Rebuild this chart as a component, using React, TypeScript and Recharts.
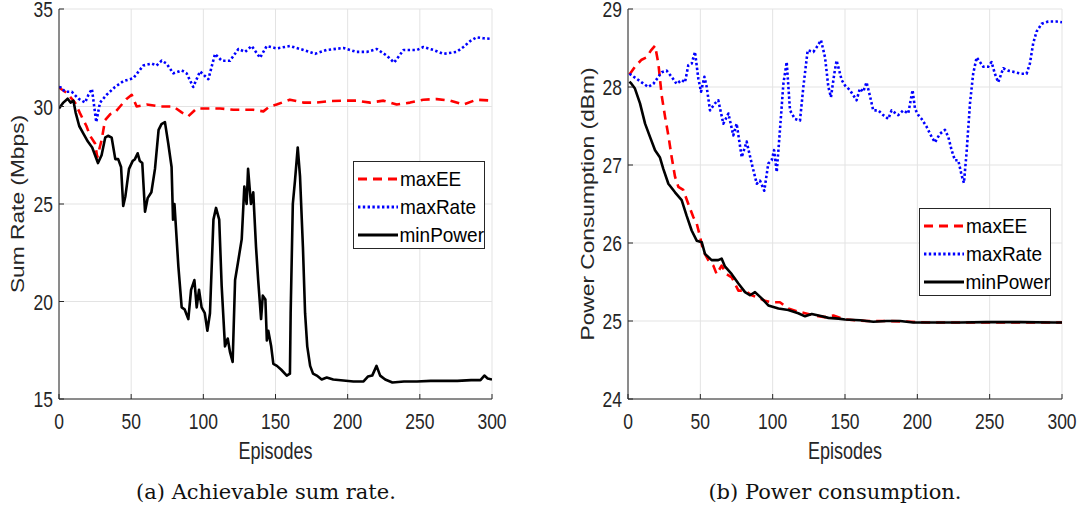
import React from 'react';
import { LineChart, Line, XAxis, YAxis, CartesianGrid, Legend } from 'recharts';

// ---------- axes ----------
const episodeTicks = [0, 50, 100, 150, 200, 250, 300];
const rateTicks = [15, 20, 25, 30, 35];
const powerTicks = [24, 25, 26, 27, 28, 29];
const seriesNames = ['maxEE', 'maxRate', 'minPower'];

// ---------- (a) achievable sum rate (Mbps) ----------
const rateMaxEEEp = [0, 1.4, 5.3, 11.1, 14.5, 19, 21.5, 25, 26.5, 29.6, 31.9, 35.4, 38.8, 42.3, 47, 50.4, 53.8, 60.8, 70, 79.2, 85, 89.6, 95.4, 102, 111.6, 120.8, 134.6, 141.6, 146, 150.8, 160, 169.3, 178.6, 187.8, 197, 206, 215.6, 224.8, 234, 243.2, 252.4, 261.7, 271, 280, 289.4, 300];
const rateMaxEEVal = [31.0, 30.9, 30.7, 30.2, 29.66, 29.0, 28.5, 28.1, 27.4, 28.3, 29.3, 29.6, 29.7, 30.0, 30.4, 30.6, 30.0, 30.1, 30.0, 30.0, 29.7, 29.5, 29.9, 29.9, 29.9, 29.83, 29.83, 29.75, 30.0, 30.1, 30.35, 30.2, 30.2, 30.28, 30.3, 30.3, 30.2, 30.3, 30.1, 30.2, 30.35, 30.38, 30.3, 30.1, 30.35, 30.3];

const rateMaxRateEp = [0, 1.4, 4.2, 8.8, 13.5, 18.1, 20.4, 22.8, 25.8, 28.4, 33, 38.8, 44.6, 51.5, 58.4, 64.2, 67.6, 71.1, 74.5, 79.2, 85, 88.4, 93, 97.7, 103.5, 108.1, 112.7, 118.5, 124.3, 128.9, 133.5, 139.3, 143.9, 150.8, 160, 169.3, 177.4, 185.5, 197, 206, 213.3, 220.2, 227.2, 232.2, 238.7, 248, 252.4, 259.4, 266.3, 275.5, 280.2, 284.8, 289.4, 294, 300];
const rateMaxRateVal = [31.0, 30.97, 30.76, 30.76, 30.4, 30.2, 30.6, 30.9, 29.2, 30.2, 30.6, 31.0, 31.3, 31.45, 32.1, 32.2, 32.1, 32.35, 32.2, 31.7, 31.85, 31.7, 31.0, 31.8, 31.4, 32.7, 32.35, 32.35, 32.95, 32.8, 33.1, 32.5, 33.1, 32.98, 33.1, 32.9, 32.7, 32.9, 33.0, 32.8, 32.8, 32.95, 32.6, 32.25, 32.9, 32.9, 33.05, 32.9, 32.7, 32.8, 33.05, 33.35, 33.55, 33.5, 33.47];

const rateMinPowerEp = [0, 1, 3, 6, 8, 10, 11.5, 14, 17, 20, 23, 25, 27, 29.5, 32, 34, 36.5, 39, 41, 43, 44.5, 46, 48.5, 51, 52.6, 54.5, 56, 57.7, 59.6, 61.4, 64, 66.5, 69, 71, 73.4, 75.7, 78, 79, 80, 82.7, 85, 87, 89.6, 91.5, 93.8, 95.4, 97, 98.8, 101, 102.8, 104.6, 107, 108.8, 111, 112.7, 115, 116.9, 118.5, 120.3, 122, 124, 126.6, 128.4, 130, 131, 133, 134.6, 135.2, 136.5, 138, 140, 141.2, 143, 144, 145, 147, 148.5, 151, 154, 157.8, 160, 160.5, 162, 163.5, 165.4, 167, 169, 170.5, 172, 174, 176, 178.6, 182, 185.5, 190, 197, 204, 211, 214, 217, 220, 222.5, 226, 231, 239, 248, 257.5, 266.8, 276, 285.5, 292, 294.7, 297, 300];
const rateMinPowerVal = [29.9, 30.0, 30.2, 30.4, 30.2, 30.3, 29.7, 29.0, 28.6, 28.2, 27.9, 27.5, 27.1, 27.5, 28.4, 28.5, 28.4, 27.3, 27.3, 26.9, 24.9, 25.4, 26.8, 27.2, 27.3, 27.6, 27.2, 27.1, 24.6, 25.3, 25.6, 26.8, 28.8, 29.1, 29.2, 28.1, 26.9, 24.2, 25.0, 21.8, 19.7, 19.6, 19.1, 20.6, 21.1, 19.7, 20.6, 19.7, 19.4, 18.5, 19.4, 24.2, 24.8, 24.2, 20.8, 17.7, 18.1, 17.4, 16.9, 21.1, 22.0, 23.2, 25.9, 25.0, 26.8, 25.0, 25.6, 24.7, 22.8, 21.1, 19.1, 20.3, 20.1, 18.0, 18.5, 17.7, 16.8, 16.7, 16.5, 16.2, 16.3, 19.4, 25.0, 26.2, 27.9, 26.4, 22.8, 19.4, 17.7, 16.7, 16.3, 16.2, 16.0, 16.1, 16.0, 15.95, 15.9, 15.9, 16.15, 16.2, 16.7, 16.2, 16.0, 15.85, 15.9, 15.9, 15.93, 15.93, 15.93, 15.97, 15.97, 16.2, 16.05, 16.0];

// ---------- (b) power consumption (dBm) ----------
const powMaxEEEp = [1, 4.8, 9.4, 12.9, 15.9, 18.7, 21, 23.3, 25.6, 27.9, 30.2, 32.5, 34.8, 38.2, 41.7, 45.2, 47.5, 49.8, 52, 55.5, 59, 61.3, 64.7, 68.2, 71.7, 76.3, 80.9, 85.5, 90, 94.7, 99.3, 105, 110.8, 117.7, 122.4, 129.3, 136, 142, 150, 165, 180, 195, 210, 230, 250, 270, 290, 300];
const powMaxEEVal = [28.16, 28.26, 28.35, 28.38, 28.47, 28.53, 28.3, 27.89, 27.62, 27.38, 27.1, 26.85, 26.72, 26.68, 26.5, 26.33, 26.25, 26.08, 25.9, 25.78, 25.71, 25.6, 25.71, 25.6, 25.56, 25.39, 25.39, 25.33, 25.3, 25.26, 25.24, 25.24, 25.16, 25.12, 25.1, 25.07, 25.05, 25.07, 25.02, 25.0, 25.0, 24.99, 24.98, 24.98, 24.98, 24.98, 24.98, 24.98];

const powMaxRateEp = [1, 4.8, 9.4, 14, 17.5, 21, 23.3, 26.7, 30.2, 33.6, 37.1, 39.4, 41.7, 44, 46.3, 48.6, 50.5, 52.8, 54.4, 56.7, 60.1, 62.4, 65.9, 69.4, 72.8, 75.1, 78.6, 82, 85.5, 89, 91.2, 94.2, 97, 99.3, 101, 102.8, 105, 107.4, 109.7, 112, 115.4, 118.9, 121.2, 124.2, 128.1, 130.4, 133.4, 136.2, 138.5, 140.3, 142.6, 144.2, 147.7, 150, 153.4, 158, 160.3, 162.6, 164.9, 167.2, 169.5, 173, 176.4, 179.9, 182.2, 186.8, 190.2, 193.7, 195.4, 196.7, 198.4, 200.7, 203, 206.4, 209.9, 212.2, 215.6, 219.1, 221.4, 223.7, 226, 228.3, 230.6, 232.2, 234, 236.4, 238.6, 241, 243.3, 245.6, 249, 251.3, 253.6, 255.9, 259.4, 262.8, 267.4, 272, 275.5, 277.8, 280.1, 282.4, 285.9, 290.5, 296.2, 300];
const powMaxRateVal = [28.17, 28.12, 28.06, 28.0, 28.04, 28.13, 28.19, 28.21, 28.13, 28.04, 28.09, 28.06, 28.28, 28.3, 28.45, 28.11, 27.94, 28.13, 28.0, 27.7, 27.79, 27.83, 27.53, 27.66, 27.38, 27.53, 27.1, 27.3, 27.02, 26.76, 26.8, 26.67, 27.02, 27.06, 27.19, 26.91, 27.44, 28.04, 28.32, 27.7, 27.59, 27.57, 28.0, 28.47, 28.45, 28.51, 28.6, 28.38, 28.0, 27.87, 28.17, 28.34, 28.09, 28.02, 27.96, 27.83, 27.98, 27.94, 28.06, 27.89, 27.7, 27.7, 27.64, 27.59, 27.7, 27.64, 27.7, 27.66, 27.83, 27.96, 27.72, 27.64, 27.59, 27.49, 27.36, 27.29, 27.4, 27.45, 27.36, 27.19, 27.06, 27.06, 26.87, 26.77, 27.15, 27.79, 28.17, 28.38, 28.32, 28.26, 28.26, 28.32, 28.17, 28.06, 28.24, 28.21, 28.19, 28.17, 28.17, 28.3, 28.56, 28.71, 28.81, 28.84, 28.84, 28.83];

const powMinPowerEp = [1, 2, 4.8, 8.3, 11.8, 15.2, 18.7, 22, 24.4, 27.9, 32.5, 37.1, 40.5, 44, 47.5, 51, 53.2, 57.8, 62.4, 64.7, 67, 71.7, 76.3, 80.9, 84.3, 87.8, 92.4, 97, 104, 110.8, 117.7, 122.4, 127, 134, 138.5, 145.4, 150, 160.4, 169.6, 178.8, 188, 197.2, 213.4, 229.5, 248, 271, 294, 300];
const powMinPowerVal = [28.07, 28.05, 27.98, 27.79, 27.53, 27.36, 27.19, 27.1, 26.95, 26.76, 26.65, 26.55, 26.35, 26.16, 26.03, 26.01, 25.86, 25.78, 25.78, 25.8, 25.7, 25.6, 25.48, 25.37, 25.33, 25.37, 25.29, 25.2, 25.16, 25.14, 25.1, 25.06, 25.09, 25.06, 25.04, 25.03, 25.02, 25.01, 24.99, 25.0, 25.0, 24.98, 24.98, 24.98, 24.985, 24.985, 24.98, 24.98];

const zip = (xs: number[], ys: number[]) => xs.map((x, i) => ({ ep: x, v: ys[i] }));

// ---------- styles ----------
const SANS = '"Liberation Sans", Arial, Helvetica, sans-serif';
const SERIF = '"DejaVu Serif", "Liberation Serif", serif';
const TXT = '#262626';
const AXIS = '#262626';
const GRID = '#e3e3e3';
const STYLES = [
  { color: '#ff0000', dash: '9 6', width: 2.6 },
  { color: '#0000ff', dash: '2.4 2.4', width: 2.6 },
  { color: '#000000', dash: undefined as string | undefined, width: 2.6 },
];

const XTick = (p: any) => (
  <text transform={`translate(${p.x},${p.y}) scale(1,1.3)`} textAnchor="middle" dy="0.71em"
    fontFamily={SANS} fontSize={17.5} fill={TXT}>{p.payload.value}</text>
);
const YTick = (p: any) => (
  <text transform={`translate(${p.x},${p.y}) scale(1,1.3)`} textAnchor="end" dy="0.355em"
    fontFamily={SANS} fontSize={17.5} fill={TXT}>{p.payload.value}</text>
);

const makeXLabel = (text: string) => (props: any) => {
  const vb = props.viewBox || {};
  const cx = vb.x + vb.width / 2;
  return (
    <text transform={`translate(${cx},${vb.y + 52}) scale(1,1.3)`} textAnchor="middle" dy="0.355em"
      fontFamily={SANS} fontSize={18} fill={TXT}>{text}</text>
  );
};
const makeYLabel = (text: string, cxOff: number) => (props: any) => {
  const vb = props.viewBox || {};
  const cy = vb.y + vb.height / 2;
  return (
    <text transform={`translate(${vb.x + cxOff},${cy}) rotate(-90) scale(1.3,1)`} textAnchor="middle" dy="0.355em"
      fontFamily={SANS} fontSize={17.5} fill={TXT}>{text}</text>
  );
};

const LegendBox = () => (
  <div style={{ background: '#fff', border: `1px solid ${AXIS}`, width: 132, height: 88, boxSizing: 'border-box', paddingTop: 3 }}>
    {seriesNames.map((n, i) => (
      <div key={n} style={{ display: 'flex', alignItems: 'center', height: 28 }}>
        <svg width={44} height={10} style={{ marginLeft: 2 }}>
          <line x1={2} y1={5} x2={42} y2={5} stroke={STYLES[i].color} strokeWidth={3} strokeDasharray={STYLES[i].dash} />
        </svg>
        <span style={{ fontFamily: SANS, fontSize: 19, color: '#000', marginLeft: 0, display: 'inline-block', transform: 'scaleY(1.1)' }}>{n}</span>
      </div>
    ))}
  </div>
);

type PanelProps = {
  left: number; width: number; rightMargin: number; yWidth: number; yDomain: [number, number]; yTicks: number[];
  yLabel: string; yLabelOff: number; data: { ep: number; v: number }[][];
  legendLeft: number; legendTop: number; caption: string; captionCenter: number;
};

const Panel = (p: PanelProps) => (
  <div style={{ position: 'absolute', left: p.left, top: 0, width: p.width, height: 512 }}>
    <LineChart width={p.width} height={470} margin={{ top: 9, right: p.rightMargin, bottom: 0, left: 0 }}
      style={{ overflow: 'visible' }}>
      <CartesianGrid stroke={GRID} strokeWidth={1} />
      <XAxis dataKey="ep" type="number" domain={[0, 300]} ticks={episodeTicks} interval={0}
        height={71} tickSize={-5} tickMargin={19} tick={<XTick />} stroke={AXIS}
        allowDataOverflow label={{ content: makeXLabel('Episodes') }} />
      <XAxis xAxisId="top" orientation="top" dataKey="ep" type="number" domain={[0, 300]} ticks={episodeTicks}
        interval={0} height={0} tickSize={-5} tick={false} stroke={AXIS} allowDataOverflow />
      <YAxis type="number" domain={p.yDomain} ticks={p.yTicks} interval={0} width={p.yWidth}
        tickSize={-5} tickMargin={11} tick={<YTick />} stroke={AXIS} allowDataOverflow
        label={{ content: makeYLabel(p.yLabel, p.yLabelOff) }} />
      <YAxis yAxisId="right" orientation="right" type="number" domain={p.yDomain} ticks={p.yTicks}
        interval={0} width={0} tickSize={-5} tick={false} stroke={AXIS} allowDataOverflow />
      {p.data.map((d, i) => (
        <Line key={seriesNames[i]} name={seriesNames[i]} data={d} dataKey="v" type="linear"
          stroke={STYLES[i].color} strokeWidth={STYLES[i].width} strokeDasharray={STYLES[i].dash}
          dot={false} activeDot={false} isAnimationActive={false} strokeLinejoin="round" />
      ))}
      <Legend layout="vertical" align="center" verticalAlign="middle" content={() => <LegendBox />}
        wrapperStyle={{ left: p.legendLeft, top: p.legendTop, width: 132, height: 88 }} />
    </LineChart>
    <div style={{ position: 'absolute', left: p.captionCenter - 200, width: 400, top: 479, textAlign: 'center',
      fontFamily: SERIF, fontSize: 21, color: '#111', lineHeight: '26px' }}>{p.caption}</div>
  </div>
);

export default function App() {
  return (
    <div style={{ position: 'absolute', left: 0, top: 0, width: 1080, height: 512, background: '#fff', overflow: 'hidden' }}>
      <Panel left={0} width={520} rightMargin={28} yWidth={59} yDomain={[15, 35]} yTicks={rateTicks}
        yLabel="Sum Rate (Mbps)" yLabelOff={18}
        data={[zip(rateMaxEEEp, rateMaxEEVal), zip(rateMaxRateEp, rateMaxRateVal), zip(rateMinPowerEp, rateMinPowerVal)]}
        legendLeft={353} legendTop={161} caption="(a) Achievable sum rate." captionCenter={266} />
      <Panel left={560} width={520} rightMargin={18} yWidth={68} yDomain={[24, 29]} yTicks={powerTicks}
        yLabel="Power Consumption (dBm)" yLabelOff={28}
        data={[zip(powMaxEEEp, powMaxEEVal), zip(powMaxRateEp, powMaxRateVal), zip(powMinPowerEp, powMinPowerVal)]}
        legendLeft={359} legendTop={208} caption="(b) Power consumption." captionCenter={275} />
    </div>
  );
}
